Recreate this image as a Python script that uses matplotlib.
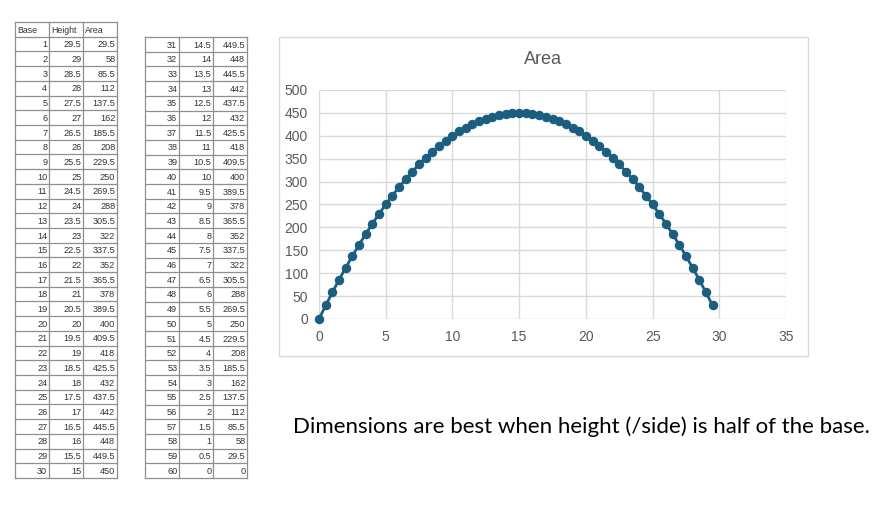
import matplotlib.pyplot as plt
from matplotlib.patches import Rectangle

W, H = 891, 505

bases = [1, 2, 3, 4, 5, 6, 7, 8, 9, 10, 11, 12, 13, 14, 15, 16, 17, 18, 19, 20,
         21, 22, 23, 24, 25, 26, 27, 28, 29, 30, 31, 32, 33, 34, 35, 36, 37, 38, 39, 40,
         41, 42, 43, 44, 45, 46, 47, 48, 49, 50, 51, 52, 53, 54, 55, 56, 57, 58, 59, 60]
heights = [29.5, 29, 28.5, 28, 27.5, 27, 26.5, 26, 25.5, 25, 24.5, 24, 23.5, 23, 22.5,
           22, 21.5, 21, 20.5, 20, 19.5, 19, 18.5, 18, 17.5, 17, 16.5, 16, 15.5, 15,
           14.5, 14, 13.5, 13, 12.5, 12, 11.5, 11, 10.5, 10, 9.5, 9, 8.5, 8, 7.5,
           7, 6.5, 6, 5.5, 5, 4.5, 4, 3.5, 3, 2.5, 2, 1.5, 1, 0.5, 0]
areas = [29.5, 58, 85.5, 112, 137.5, 162, 185.5, 208, 229.5, 250, 269.5, 288, 305.5, 322, 337.5,
         352, 365.5, 378, 389.5, 400, 409.5, 418, 425.5, 432, 437.5, 442, 445.5, 448, 449.5, 450,
         449.5, 448, 445.5, 442, 437.5, 432, 425.5, 418, 409.5, 400, 389.5, 378, 365.5, 352, 337.5,
         322, 305.5, 288, 269.5, 250, 229.5, 208, 185.5, 162, 137.5, 112, 85.5, 58, 29.5, 0]
header = ['Base', 'Height', 'Area']
note = 'Dimensions are best when height (/side) is half of the base.'


def px_axes(fig, x0, y0, x1, y1):
    # axes placed by pixel box (top-left origin)
    return fig.add_axes([x0 / W, 1 - y1 / H, (x1 - x0) / W, (y1 - y0) / H])


def draw_table(ax, rows, with_header):
    n = len(rows) + (1 if with_header else 0)
    ax.set_xlim(0, 3)
    ax.set_ylim(n, 0)
    ax.axis('off')
    for i in range(n + 1):
        ax.plot([0, 3], [i, i], color='#8f8f8f', lw=0.9, clip_on=False)
    for j in range(4):
        ax.plot([j, j], [0, n], color='#8f8f8f', lw=0.9, clip_on=False)
    r0 = 0
    if with_header:
        for j, h in enumerate(header):
            ax.text(j + 0.07, 0.55, h, fontsize=6.3, color='#333333',
                    ha='left', va='center', family='Liberation Sans')
        r0 = 1
    for i, row in enumerate(rows):
        for j, v in enumerate(row):
            ax.text(j + 0.95, r0 + i + 0.55, f'{v:g}', fontsize=6.6, color='#333333',
                    ha='right', va='center', family='Liberation Sans')


fig = plt.figure(figsize=(W / 100, H / 100), dpi=100)

rows = list(zip(bases, heights, areas))
t1 = px_axes(fig, 15, 22, 117, 478)
draw_table(t1, rows[:30], True)
t2 = px_axes(fig, 145, 37, 247, 478)
draw_table(t2, rows[30:], False)

# chart frame
fig.patches.append(Rectangle((279 / W, 1 - 356 / H), (808 - 279) / W, (356 - 37) / H,
                             transform=fig.transFigure, fill=False,
                             edgecolor='#d9d9d9', lw=1.0))
fig.text(543 / W, 1 - 59 / H, 'Area', fontsize=13, color='#595959',
         ha='center', va='center', family='Liberation Sans')

ax = px_axes(fig, 319, 90, 786, 319)
ax.plot(heights, areas, color='#1b5e80', lw=2, marker='o', ms=5.8, zorder=3, clip_on=False)
ax.set_xlim(0, 35)
ax.set_ylim(0, 500)
ax.set_xticks(range(0, 36, 5))
ax.set_yticks(range(0, 501, 50))
ax.grid(True, color='#d9d9d9', lw=1)
for s in ax.spines.values():
    s.set_visible(False)
ax.tick_params(length=0, labelsize=10, colors='#595959', pad=8)
for lab in ax.get_xticklabels() + ax.get_yticklabels():
    lab.set_family('Liberation Sans')

fig.text(293 / W, 1 - 427 / H, note, fontsize=16, color='black',
         ha='left', va='center', family='Lato')

fig.savefig('out.png', dpi=100)
